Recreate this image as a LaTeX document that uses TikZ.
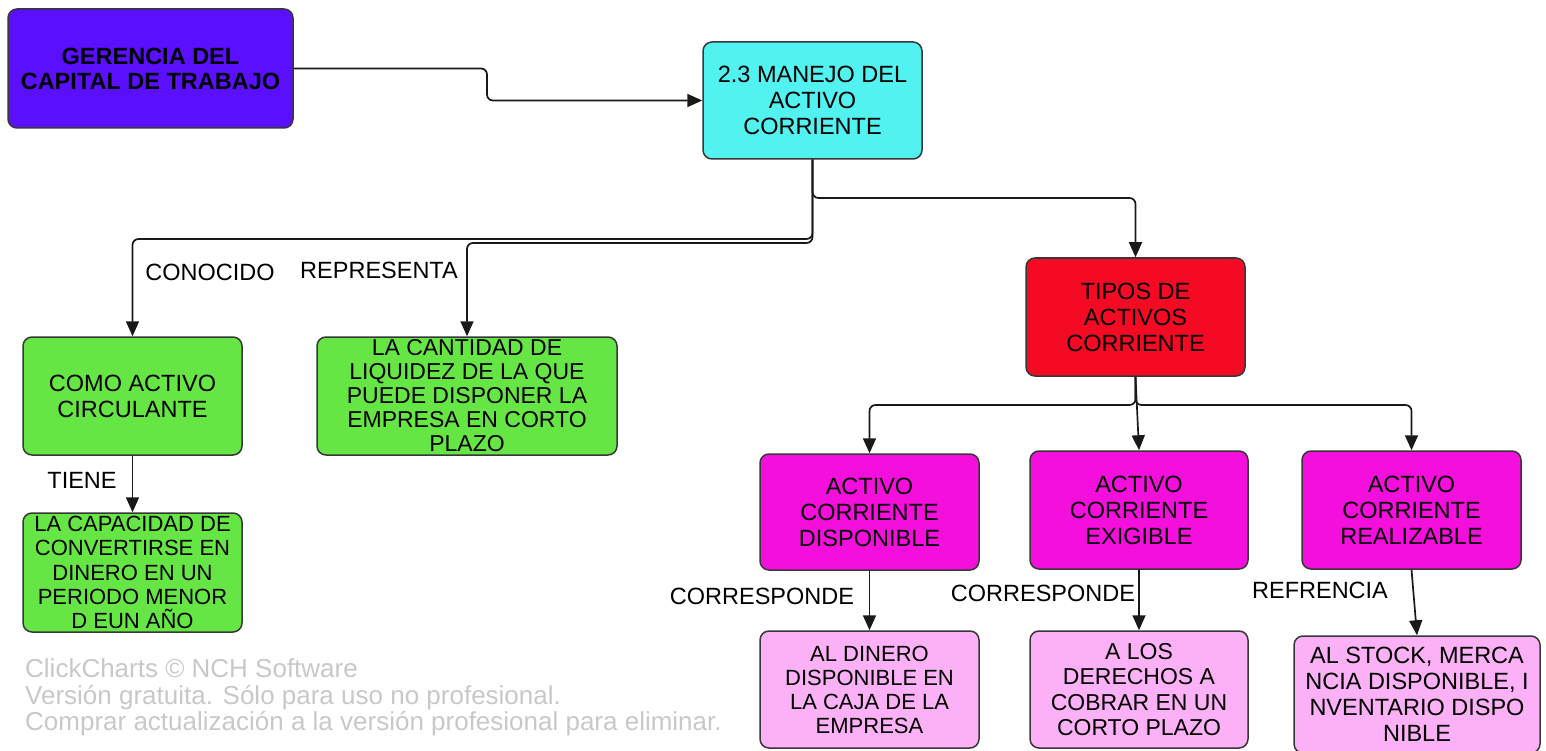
\documentclass[tikz,border=0pt]{standalone}
\usepackage{fontspec}
\setmainfont{Liberation Sans}
\usetikzlibrary{arrows.meta}
\definecolor{cViolet}{RGB}{90,16,255}
\definecolor{cCyan}{RGB}{82,242,240}
\definecolor{cRed}{RGB}{245,10,35}
\definecolor{cGreen}{RGB}{102,230,69}
\definecolor{cMag}{RGB}{245,15,220}
\definecolor{cPink}{RGB}{252,176,245}
\definecolor{cLine}{RGB}{55,55,55}
\definecolor{cWm}{RGB}{200,200,200}
\begin{document}
\begin{tikzpicture}[x=1pt,y=-1pt,
  box/.style={draw=cLine, line width=1.5pt, rounded corners=9pt, align=center, inner sep=0pt,
    text=black, font=\fontsize{23.5}{26}\selectfont},
  tight/.style={font=\fontsize{23}{24}\selectfont},
  conn/.style={draw=black!90, line width=1.7pt, rounded corners=6pt},
  arr/.style={conn, -{Triangle[length=15pt,width=13pt]}},
  lbl/.style={font=\fontsize{23.5}{26}\selectfont, inner sep=0pt, text=black},
  wm/.style={font=\fontsize{26}{27}\selectfont, inner sep=0pt, text=cWm, anchor=base west},
]
\useasboundingbox (0,0) rectangle (1546,751);

% boxes
\node[box, fill=cViolet, minimum width=285pt, minimum height=119pt, font=\bfseries\fontsize{23.5}{25}\selectfont] (G) at (150.5,68.5) {GERENCIA DEL\\CAPITAL DE TRABAJO};
\node[box, fill=cCyan, minimum width=219pt, minimum height=117pt] (M) at (812.5,100.5) {2.3 MANEJO DEL\\ACTIVO\\CORRIENTE};
\node[box, fill=cRed, minimum width=219pt, minimum height=118pt] (T) at (1135.5,317) {TIPOS DE\\ACTIVOS\\CORRIENTE};
\node[box, fill=cGreen, minimum width=219pt, minimum height=118pt] (C) at (132.5,396) {COMO ACTIVO\\CIRCULANTE};
\node[box, fill=cGreen, minimum width=300pt, minimum height=118pt, tight] (L) at (467,396) {LA CANTIDAD DE\\LIQUIDEZ DE LA QUE\\PUEDE DISPONER LA\\EMPRESA EN CORTO\\PLAZO};
\node[box, fill=cGreen, minimum width=219pt, minimum height=119pt, font=\fontsize{22}{24.3}\selectfont] (P) at (132.5,572.5) {LA CAPACIDAD DE\\CONVERTIRSE EN\\DINERO EN UN\\PERIODO MENOR\\D EUN AÑO};
\node[box, fill=cMag, minimum width=219pt, minimum height=116pt] (D) at (869.5,512) {ACTIVO\\CORRIENTE\\DISPONIBLE};
\node[box, fill=cMag, minimum width=218pt, minimum height=118pt] (E) at (1139,510) {ACTIVO\\CORRIENTE\\EXIGIBLE};
\node[box, fill=cMag, minimum width=219pt, minimum height=118pt] (R) at (1411.5,510) {ACTIVO\\CORRIENTE\\REALIZABLE};
\node[box, fill=cPink, minimum width=219pt, minimum height=117pt, font=\fontsize{22}{24}\selectfont] (DN) at (869.5,689.5) {AL DINERO\\DISPONIBLE EN\\LA CAJA DE LA\\EMPRESA};
\node[box, fill=cPink, minimum width=218pt, minimum height=117pt, font=\fontsize{23}{25.3}\selectfont] (AL) at (1139,689.5) {A LOS\\DERECHOS A\\COBRAR EN UN\\CORTO PLAZO};
\node[box, fill=cPink, minimum width=246pt, minimum height=117pt] (S) at (1417,694.5) {AL STOCK, MERCA\\NCIA DISPONIBLE, I\\NVENTARIO DISPO\\NIBLE};

% junctions
\coordinate (j0) at (487,68.5);
\coordinate (j1) at (812.5,239);
\coordinate (j2) at (812.5,243);
\coordinate (j3) at (812.5,198);
\coordinate (j4) at (1135.5,405);

% connectors
\draw[arr] (G.east) -- (j0) |- (M.west);
\draw[arr] (M.south) -- (j3) -| (T.north);
\draw[arr] (M.south) -- (j1) -| (C.north);
\draw[arr] (M.south) -- (j2) -| (L.north);
\draw[arr] (C.south) -- (P.north);
\draw[arr] (T.south) -- (j4) -| (D.north);
\draw[arr] (T.south) -- (E.north);
\draw[arr] (T.south) -- (j4) -| (R.north);
\draw[arr] (D.south) -- (DN.north);
\draw[arr] (E.south) -- (AL.north);
\draw[arr] (R.south) -- (S.north);

% labels
\node[lbl] (l1) at (210,272) {CONOCIDO};
\node[lbl] (l2) at (379,270) {REPRESENTA};
\node[lbl] (l3) at (82,480) {TIENE};
\node[lbl] (l4) at (762,596) {CORRESPONDE};
\node[lbl] (l5) at (1043,593) {CORRESPONDE};
\node[lbl] (l6) at (1320,590) {REFRENCIA};

% watermark
\node[wm] (wm1) at (25,677) {ClickCharts © NCH Software};
\node[wm] (wm2) at (25,704) {Versión gratuita. Sólo para uso no profesional.};
\node[wm] (wm3) at (25,730) {Comprar actualización a la versión profesional para eliminar.};
\end{tikzpicture}
\end{document}
